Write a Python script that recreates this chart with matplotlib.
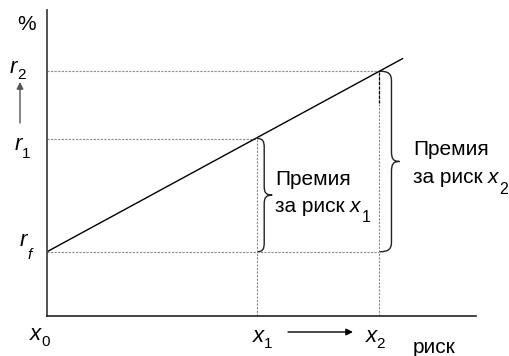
import numpy as np
import matplotlib
matplotlib.use("Agg")
import matplotlib.pyplot as plt
from matplotlib.path import Path
from matplotlib.patches import PathPatch

plt.rcParams['font.family'] = ['Liberation Sans', 'DejaVu Sans']

# ---- data ----
x_points = [0.0, 4.9, 7.75]          # x0, x1, x2 (risk)
r_points = [2.1, 5.8, 8.0]           # r_f, r1, r2 (return)
line_x = [0.0, 8.3]
line_y = [2.1, 8.42]
x_main = ["x", "x", "x"]
x_subs = ["0", "1", "2"]
r_main = ["r", "r", "r"]
r_subs = ["f", "1", "2"]
brace_line1 = ["Премия", "Премия"]
brace_line2 = ["за риск", "за риск"]
brace_subs = ["1", "2"]
ylabel = "%"
xlabel = "риск"

W, H = 510, 356
fig = plt.figure(figsize=(W / 100, H / 100), dpi=100)
ax = fig.add_axes([47 / W, 40 / H, 429 / W, 306 / H])
ax.set_xlim(0, 10)
ax.set_ylim(0, 10)
for s in ['top', 'right']:
    ax.spines[s].set_visible(False)
ax.spines['left'].set_color('#444444')
ax.spines['left'].set_linewidth(1.3)
ax.spines['bottom'].set_color('#222222')
ax.spines['bottom'].set_linewidth(1.2)
ax.set_xticks([])
ax.set_yticks([])

dash = dict(color='#8c8c8c', lw=0.8, dashes=(2, 1.2))
x0, x1, x2 = x_points
rf, r1, r2 = r_points
# guide lines
ax.plot([x0, x2], [rf, rf], **dash)
ax.plot([x0, x1], [r1, r1], **dash)
ax.plot([x0, x2], [r2, r2], **dash)
ax.plot([x1, x1], [0, r1], **dash)
ax.plot([x2, x2], [0, r2], **dash)
ax.plot([x2, x2], [r2 - 1.05, r2], color='black', lw=0.9, dashes=(2.5, 1.2))

# main line
ax.plot(line_x, line_y, color='black', lw=1.0, solid_capstyle='butt')

T = ax.transData


def brace(xa, yb, yt, a, b, r):
    px0, pbot = T.transform((xa, yb))
    _, ptop = T.transform((xa, yt))
    mid = (ptop + pbot) / 2
    verts = [
        (px0, ptop),
        (px0 + a * 0.8, ptop), (px0 + a, ptop - r * 0.3), (px0 + a, ptop - r),
        (px0 + a, mid + r),
        (px0 + a, mid + r * 0.3), (px0 + a + (b - a) * 0.2, mid), (px0 + b, mid),
        (px0 + a + (b - a) * 0.2, mid), (px0 + a, mid - r * 0.3), (px0 + a, mid - r),
        (px0 + a, pbot + r),
        (px0 + a, pbot + r * 0.3), (px0 + a * 0.8, pbot), (px0, pbot),
    ]
    codes = [Path.MOVETO,
             Path.CURVE4, Path.CURVE4, Path.CURVE4,
             Path.LINETO,
             Path.CURVE4, Path.CURVE4, Path.CURVE4,
             Path.CURVE4, Path.CURVE4, Path.CURVE4,
             Path.LINETO,
             Path.CURVE4, Path.CURVE4, Path.CURVE4]
    dverts = T.inverted().transform(np.array(verts))
    ax.add_patch(PathPatch(Path(dverts, codes), fill=False, ec='#222222',
                           lw=1.0, clip_on=False))


brace(x1, rf, r1, 7, 15, 9)
brace(x2, rf, r2, 12, 20, 10)


def ftext(px, py, s, **kw):
    return fig.text(px / W, py / H, s, ha='left', va='baseline', **kw)


def sub_label(xd, yd, main, sub, dx, dy, sdx, sdy, size=16, ssize=11,
              sub_italic=False):
    px, py = T.transform((xd, yd))
    ftext(px + dx, py + dy, main, fontsize=size, style='italic')
    ftext(px + dx + sdx, py + dy + sdy, sub, fontsize=ssize,
          style='italic' if sub_italic else 'normal')


# r labels
r_off = [(-27, 6, 7, -13), (-32, -11, 7, -8), (-37, -2, 7, -6)]
for m, sb, rv, o in zip(r_main, r_subs, r_points, r_off):
    sub_label(0, rv, m, sb, *o, sub_italic=(sb == 'f'))

# x labels
x_off = [(-17, -24, 11, -6), (-4, -26, 11, -6), (-14, -26, 11, -6)]
for m, sb, xv, o in zip(x_main, x_subs, x_points, x_off):
    sub_label(xv, 0, m, sb, *o)

# brace texts
renderer = fig.canvas.get_renderer()
b_anchor = [(x1, (rf + r1) / 2), (x2, (rf + r2) / 2)]
b_off = [(18, 10, -17, -27), (34, 6, -22, -33)]
for l1, l2, sb, (xa, ya), (dx, d1, d2, ds) in zip(brace_line1, brace_line2,
                                                  brace_subs, b_anchor, b_off):
    px, py = T.transform((xa, ya))
    ftext(px + dx, py + d1, l1, fontsize=15)
    t2 = ftext(px + dx, py + d2, l2, fontsize=15)
    ext = t2.get_window_extent(renderer)
    tx = ftext(ext.x1 + 5, py + d2, "x", fontsize=15, style='italic')
    ext2 = tx.get_window_extent(renderer)
    ftext(ext2.x1 + 1, py + ds, sb, fontsize=11.5)

# axis words
fig.text(27 / W, 1 - 25 / H, ylabel, ha='center', va='center', fontsize=15)
fig.text(434 / W, 3 / H, xlabel, ha='center', va='baseline', fontsize=15)

# arrows
ax.annotate('', xy=(353, H - 332), xytext=(288, H - 332),
            xycoords='figure pixels', textcoords='figure pixels',
            arrowprops=dict(arrowstyle='-|>', color='black', lw=1.0,
                            mutation_scale=10, shrinkA=0, shrinkB=0))
ax.annotate('', xy=(20, H - 82), xytext=(20, H - 123),
            xycoords='figure pixels', textcoords='figure pixels',
            arrowprops=dict(arrowstyle='-|>', color='#555555', lw=1.0,
                            mutation_scale=10, shrinkA=0, shrinkB=0))

fig.savefig('out.png', dpi=100)
